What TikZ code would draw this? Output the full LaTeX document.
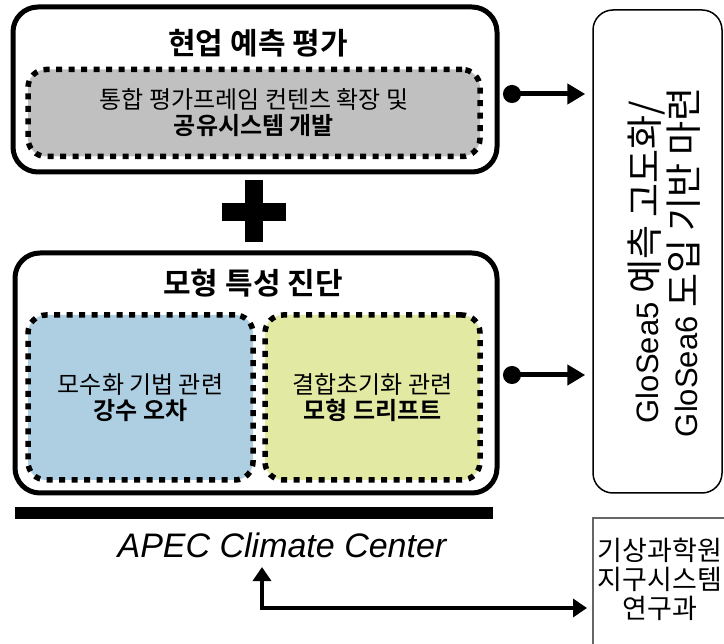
\documentclass[tikz,border=0pt]{standalone}
\usepackage{fontspec}
\setmainfont{Liberation Sans}
\newfontfamily\kr[BoldFont={Noto Sans CJK KR Bold}]{Noto Sans CJK KR}
\usetikzlibrary{arrows.meta}

\definecolor{boxgray}{RGB}{192,192,192}
\definecolor{errblue}{RGB}{174,206,226}
\definecolor{driftgreen}{RGB}{225,233,162}

\begin{document}
\begin{tikzpicture}[x=1pt,y=-1pt,
    outer/.style={draw,line width=5pt,rounded corners=25pt},
    dotbox/.style={draw,line width=5.5pt,dash pattern=on 6pt off 6.5pt,rounded corners=18pt,
      align=center,font=\kr\fontsize{24}{26}\selectfont},
    boxtitle/.style={font=\kr\bfseries\fontsize{30}{32}\selectfont},
    link/.style={line width=5pt,{Circle[length=18pt]}-{Triangle[length=18pt,width=20pt]},
      shorten <=3.5pt,shorten >=7pt},
    feedback/.style={line width=4.5pt,{Triangle[length=14pt,width=18pt]}-{Triangle[length=14pt,width=18pt]},
      shorten <=6pt,shorten >=6pt}]

    \useasboundingbox (0,0) rectangle (724,644);

    % operational evaluation
    \node[outer,minimum width=484pt,minimum height=165pt] (evalbox) at (255,89.5) {};
    \node[boxtitle] (evaltitle) at (258,43) {현업 예측 평가};
    \node[dotbox,fill=boxgray,minimum width=452pt,minimum height=87pt] (evalin) at (254,113)
        {통합 평가프레임 컨텐츠 확장 및\\\textbf{공유시스템 개발}};

    % plus sign
    \fill (222,203.5) rectangle (286,221.5);
    \fill (245,180) rectangle (263,242);

    % model diagnosis
    \node[outer,minimum width=482pt,minimum height=240pt] (diagbox) at (256,373) {};
    \node[boxtitle] (diagtitle) at (253,283) {모형 특성 진단};
    \node[dotbox,fill=errblue,minimum width=225pt,minimum height=165pt] (precip) at (140.5,397.5)
        {모수화 기법 관련\\\textbf{강수 오차}};
    \node[dotbox,fill=driftgreen,minimum width=215pt,minimum height=165pt] (drift) at (372.5,397.5)
        {결합초기화 관련\\\textbf{모형 드리프트}};

    \fill (15,507) rectangle (493,519);
    \node[font=\itshape\fontsize{34}{36}\selectfont] (apec) at (282,545) {APEC Climate Center};

    % GloSea box
    \node[draw,line width=1.5pt,rounded corners=20pt,minimum width=129pt,minimum height=483pt] (outlook) at (657.5,251.5) {};
    \node[rotate=90,align=center,font=\fontsize{31}{37}\selectfont] (outlooktext) at (664,262)
        {GloSea5 {\kr\fontsize{37}{37}\selectfont 예측 고도화/}\\GloSea6 {\kr\fontsize{37}{37}\selectfont 도입 기반 마련}};

    % NIMS box
    \coordinate (kmacorner) at (593,518);
    \coordinate (kmain) at (593,608);
    \draw[black!60,line width=1.6pt] (726,518) -- (kmacorner) -- (593,646);
    \node[align=center,font=\kr\fontsize{27}{29}\selectfont] (kma) at (660,579)
        {기상과학원\\지구시스템\\연구과};

    \draw[link] (evalbox.east |- 0,94) -- (outlook.west |- 0,94);
    \draw[link] (diagbox.east |- 0,375) -- (outlook.west |- 0,375);
    \draw[feedback] ([xshift=-20pt]apec.south) |- (kmain);
\end{tikzpicture}
\end{document}
